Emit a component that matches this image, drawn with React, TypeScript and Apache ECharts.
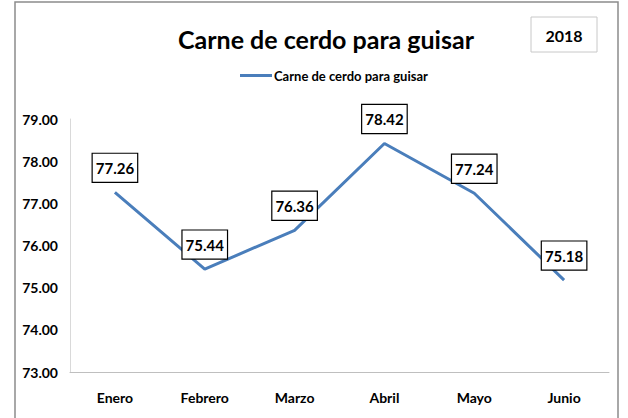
import React, { useEffect, useRef } from "react";
import * as echarts from "echarts";

const categories = ["Enero", "Febrero", "Marzo", "Abril", "Mayo", "Junio"];
const values = [77.26, 75.44, 76.36, 78.42, 77.24, 75.18];
const seriesName = "Carne de cerdo para guisar";
const titleText = "Carne de cerdo para guisar";
const yearText = "2018";
const yMin = 73;
const yMax = 79;
const yInterval = 1;

const FONT = "Lato, 'DejaVu Sans Condensed', sans-serif";
const LINE_COLOR = "#4a7ebb";

export default function App() {
  const ref = useRef<HTMLDivElement>(null);
  useEffect(() => {
    if (!ref.current) return;
    const chart = echarts.init(ref.current, null, { renderer: "svg" });
    chart.setOption({
      animation: false,
      backgroundColor: "#ffffff",
      title: {
        text: titleText,
        left: 321,
        textAlign: "center",
        top: 21,
        textStyle: { fontFamily: FONT, fontSize: 25, fontWeight: "bold", color: "#000" },
      },
      legend: {
        data: [{ name: seriesName, itemStyle: { color: LINE_COLOR, opacity: 1 } }],
        top: 64,
        left: 235,
        itemWidth: 32,
        itemHeight: 3,
        itemGap: 4,
        icon: "rect",
        itemStyle: { opacity: 1, color: LINE_COLOR },
        textStyle: { fontFamily: FONT, fontSize: 13, fontWeight: "bold", color: "#000", padding: [0, 0, 0, -3] },
      },
      graphic: [
        {
          type: "rect",
          shape: { x: 15, y: 2, width: 603, height: 430 },
          style: { fill: "none", stroke: "#8c8c8c", lineWidth: 1.5 },
          silent: true,
        },
        {
          type: "rect",
          shape: { x: 531, y: 17, width: 66, height: 35 },
          style: { fill: "#fff", stroke: "#c8c8c8", lineWidth: 1 },
        },
        {
          type: "text",
          x: 564,
          y: 35,
          style: {
            text: yearText,
            fontFamily: FONT,
            fontSize: 16,
            fontWeight: "bold",
            fill: "#000",
            align: "center",
            verticalAlign: "middle",
          },
        },
      ],
      grid: { left: 70, right: 19, top: 119, bottom: 46, containLabel: false },
      xAxis: {
        type: "category",
        data: categories,
        boundaryGap: true,
        axisLine: { show: true, lineStyle: { color: "#bfbfbf", width: 1 } },
        axisTick: { show: false },
        axisLabel: {
          margin: 18,
          fontFamily: FONT,
          fontSize: 14,
          fontWeight: "bold",
          color: "#000",
        },
      },
      yAxis: {
        type: "value",
        min: yMin,
        max: yMax,
        interval: yInterval,
        axisLine: { show: true, lineStyle: { color: "#d9d9d9", width: 1 } },
        axisTick: { show: false },
        splitLine: { show: false },
        axisLabel: {
          margin: 12,
          fontFamily: FONT,
          fontSize: 14,
          fontWeight: "bold",
          color: "#000",
          formatter: (v: number) => v.toFixed(2),
        },
      },
      series: [
        {
          name: seriesName,
          type: "line",
          data: values,
          symbol: "circle",
          symbolSize: 1,
          showSymbol: true,
          lineStyle: { color: LINE_COLOR, width: 3 },
          itemStyle: { color: LINE_COLOR, opacity: 0 },
          label: {
            show: true,
            position: "top",
            distance: 10,
            formatter: (p: any) => Number(p.value).toFixed(2),
            fontFamily: FONT,
            fontSize: 15,
            fontWeight: "bold",
            color: "#000",
            opacity: 1,
            backgroundColor: "#fff",
            borderColor: "#000",
            borderWidth: 1.2,
            padding: [7, 3, 6, 3],
          },
        },
      ],
    });
    return () => chart.dispose();
  }, []);
  return <div ref={ref} style={{ width: 628, height: 418, position: "absolute", left: 0, top: 0 }} />;
}
